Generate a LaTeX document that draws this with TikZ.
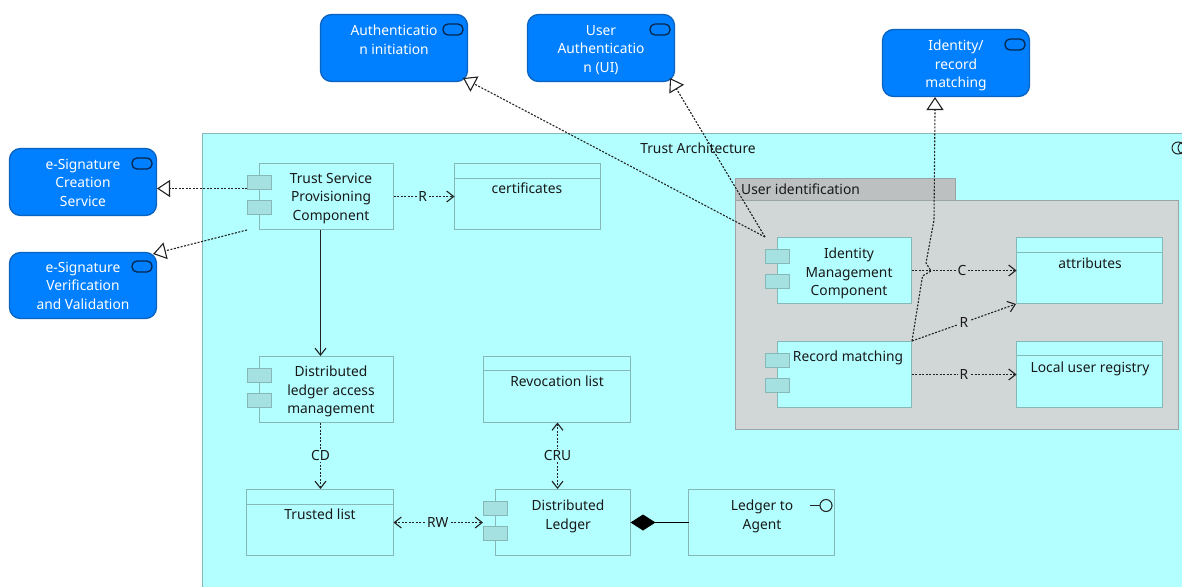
\documentclass[tikz,border=0pt]{standalone}
\usepackage{fontspec}
\setmainfont[FakeStretch=0.985]{Noto Sans}
\usetikzlibrary{arrows.meta}
\definecolor{archfill}{HTML}{B3FFFF}
\definecolor{archline}{HTML}{86B8B8}
\definecolor{compside}{HTML}{A6E1E1}
\definecolor{grpfill}{HTML}{D1D6D6}
\definecolor{grptab}{HTML}{BCC0C0}
\definecolor{grpline}{HTML}{9AA5A5}
\definecolor{svcfill}{HTML}{007FFF}
\definecolor{svcline}{HTML}{0A63BE}
\definecolor{svcicon}{HTML}{04264D}
\definecolor{wire}{HTML}{222222}
\tikzset{
  x=1pt,y=-1pt,
  boxbase/.style={inner sep=0pt,outer sep=0pt,anchor=north west,line width=1.3pt},
  plainbox/.style={boxbase,draw=archline,fill=archfill},
  sidebox/.style={boxbase,draw=archline,fill=compside},
  svcbox/.style={boxbase,draw=svcline,fill=svcfill,rounded corners=11pt},
  svcmark/.style={boxbase,draw=svcicon,line width=1.3pt,fill=svcfill,rounded corners=5pt},
  grpbody/.style={boxbase,draw=grpline,fill=grpfill},
  grphead/.style={boxbase,draw=grpline,fill=grptab},
  lbl/.style={inner sep=0pt,anchor=north,align=center,text=black!90,font=\fontsize{14}{18.4}\selectfont},
  svclbl/.style={lbl,text=white},
  dots/.style={draw=wire,line width=1.1pt,dash pattern=on 2pt off 1.5pt},
  realize/.style={dots,-{Triangle[open,fill=white,length=13pt,width=17pt,line width=1.1pt]}},
  access/.style={dots,-{Straight Barb[length=7pt,width=11pt,line width=1.1pt]}},
  accessboth/.style={dots,{Straight Barb[length=7pt,width=11pt,line width=1.1pt]}-{Straight Barb[length=7pt,width=11pt,line width=1.1pt]}},
  flowline/.style={draw=wire,line width=1.2pt,-{Straight Barb[length=7pt,width=11pt,line width=1.1pt]}},
  comp/.style={draw=black,line width=1.4pt,{Diamond[length=25pt,width=16pt,fill=black]}-},
  tag/.style={inner sep=1.5pt,text=black!90,font=\fontsize{14}{16}\selectfont},
}
\newcommand{\mybox}[6]{\node[#6,minimum width={(#4-#2)*1pt},minimum height={(#5-#3)*1pt}] (#1) at (#2,#3) {};}
\begin{document}
\begin{tikzpicture}
\useasboundingbox (0,0) rectangle (1182,587);
% architecture frame
\fill[archfill] (202,133) rectangle (1182,587);
\draw[archline,line width=1.3pt] (1182,133.5) -- (202.5,133.5) -- (202.5,587);
\node[lbl] (archname) at (698,143) {Trust Architecture};
\begin{scope}
\clip (1160,133) rectangle (1182,170);
\draw[black!85,line width=1pt] (1178,148) circle (6);
\draw[black!85,line width=1pt] (1184,148) circle (6);
\end{scope}
% services
\mybox{sa}{320.5}{14.5}{467.5}{81.5}{svcbox}
\mybox{sai}{443}{24}{463}{35}{svcmark}
\node[svclbl] (sat) at (394,25) {Authenticatio\\n initiation};
\mybox{su}{527.5}{14.5}{674.5}{81.5}{svcbox}
\mybox{sui}{650}{24}{670}{35}{svcmark}
\node[svclbl] (sut) at (601,25) {User\\Authenticatio\\n (UI)};
\mybox{si}{882.5}{29.5}{1029.5}{96.5}{svcbox}
\mybox{sii}{1005}{39}{1025}{50}{svcmark}
\node[svclbl] (sit) at (956,40) {Identity/\\record\\matching};
\mybox{sc}{9.5}{148.5}{156.5}{215.5}{svcbox}
\mybox{sci}{132}{158}{152}{169}{svcmark}
\node[svclbl] (sct) at (83,159) {e-Signature\\Creation\\Service};
\mybox{sv}{9.5}{252.5}{156.5}{318.5}{svcbox}
\mybox{svi}{132}{261}{152}{272}{svcmark}
\node[svclbl] (svt) at (83,262) {e-Signature\\Verification\\and Validation};
% group
\mybox{gt}{735.5}{178.5}{955.5}{200.5}{grphead}
\mybox{gb}{735.5}{200.5}{1178.5}{429.5}{grpbody}
\node[lbl,anchor=north west] (gtt) at (741,184) {User identification};
% components
\mybox{ts}{259.5}{163.5}{393.5}{229.5}{plainbox}
\mybox{tsa}{247.5}{175.5}{271.5}{189.5}{sidebox}
\mybox{tsb}{247.5}{200.5}{271.5}{214.5}{sidebox}
\node[lbl] (tst) at (331,173) {Trust Service\\Provisioning\\Component};
\mybox{dm}{259.5}{356.5}{393.5}{422.5}{plainbox}
\mybox{dma}{247.5}{368.5}{271.5}{382.5}{sidebox}
\mybox{dmb}{247.5}{393.5}{271.5}{407.5}{sidebox}
\node[lbl] (dmt) at (331,366) {Distributed\\ledger access\\management};
\mybox{dl}{495.5}{489.5}{630.5}{555.5}{plainbox}
\mybox{dla}{483.5}{501.5}{507.5}{515.5}{sidebox}
\mybox{dlb}{483.5}{526.5}{507.5}{540.5}{sidebox}
\node[lbl] (dlt) at (568,500) {Distributed\\Ledger};
\mybox{im}{777.5}{237.5}{911.5}{303.5}{plainbox}
\mybox{ima}{765.5}{249.5}{789.5}{263.5}{sidebox}
\mybox{imb}{765.5}{274.5}{789.5}{288.5}{sidebox}
\node[lbl] (imt) at (849,248) {Identity\\Management\\Component};
\mybox{rm}{777.5}{341.5}{911.5}{407.5}{plainbox}
\mybox{rma}{765.5}{353.5}{789.5}{367.5}{sidebox}
\mybox{rmb}{765.5}{378.5}{789.5}{392.5}{sidebox}
\node[lbl] (rmt) at (848,351) {Record matching};
% data objects
\mybox{ce}{454.5}{163.5}{600.5}{229.5}{plainbox}
\draw[archline,line width=1.3pt] (454.5,178.5) -- (600.5,178.5);
\node[lbl] (cet) at (527,183) {certificates};
\mybox{rv}{483.5}{356.5}{630.5}{422.5}{plainbox}
\draw[archline,line width=1.3pt] (483.5,370.5) -- (630.5,370.5);
\node[lbl] (rvt) at (557,376) {Revocation list};
\mybox{tl}{246.5}{489.5}{393.5}{555.5}{plainbox}
\draw[archline,line width=1.3pt] (246.5,504.5) -- (393.5,504.5);
\node[lbl] (tlt) at (320,509) {Trusted list};
\mybox{at}{1016.5}{237.5}{1162.5}{303.5}{plainbox}
\draw[archline,line width=1.3pt] (1016.5,252.5) -- (1162.5,252.5);
\node[lbl] (att) at (1090,258) {attributes};
\mybox{lu}{1016.5}{341.5}{1162.5}{407.5}{plainbox}
\draw[archline,line width=1.3pt] (1016.5,355.5) -- (1162.5,355.5);
\node[lbl] (lut) at (1090,362) {Local user registry};
% interface
\mybox{la}{688.5}{489.5}{834.5}{555.5}{plainbox}
\node[lbl] (lat) at (762,500) {Ledger to\\Agent};
\draw[black!85,line width=1pt] (810,505.5) -- (820,505.5);
\node[circle,draw=black!85,line width=1.1pt,inner sep=0pt,minimum size=12pt] (lai) at (826,505.5) {};
% free ends of connectors
\coordinate (c1s) at (247,188.5);
\coordinate (c1e) at (157,188.5);
\coordinate (c2s) at (247,230);
\coordinate (c2e) at (153,254);
\coordinate (c3s) at (765,237);
\coordinate (c3e) at (463,78);
\coordinate (c4e) at (670,78);
\coordinate (c5e) at (935,97);
\coordinate (c6s) at (912,341);
\coordinate (c6e) at (1016,304);
\coordinate (c7) at (320.5,230);
\coordinate (c8) at (320.5,356);
\coordinate (c9) at (320.5,422.5);
\coordinate (c10) at (320.5,489);
\coordinate (c11) at (557.5,422.5);
\coordinate (c12) at (557.5,489);
\coordinate (c13) at (483,522.5);
% realizations
\draw[realize] (c1s) -- (c1e);
\draw[realize] (c2s) -- (c2e);
\draw[realize] (c3s) -- (c3e);
\draw[realize] (c3s) -- (c4e);
\draw[realize] (c6s) -- (922.5,276) -- (931,271) -- (926,263) -- (934,220) -- (935,110) -- (c5e);
% relations
\draw[flowline] (c7) -- (c8);
\draw[access] (ts.east) -- node[tag,fill=archfill,pos=.48] (l1) {R} (ce.west);
\draw[access] (c9) -- node[tag,fill=archfill] (l2) {CD} (c10);
\draw[accessboth] (c11) -- node[tag,fill=archfill] (l3) {CRU} (c12);
\draw[accessboth] (tl.east) -- node[tag,fill=archfill,pos=.495] (l4) {RW} (c13);
\draw[access] (im.east) -- node[tag,fill=grpfill,pos=.48] (l5) {C} (at.west);
\draw[access] (c6s) -- node[tag,fill=grpfill] (l6) {R} (c6e);
\draw[access] (rm.east) -- node[tag,fill=grpfill] (l7) {R} (lu.west);
\draw[comp] (dl.east) -- (la.west);
\end{tikzpicture}
\end{document}
